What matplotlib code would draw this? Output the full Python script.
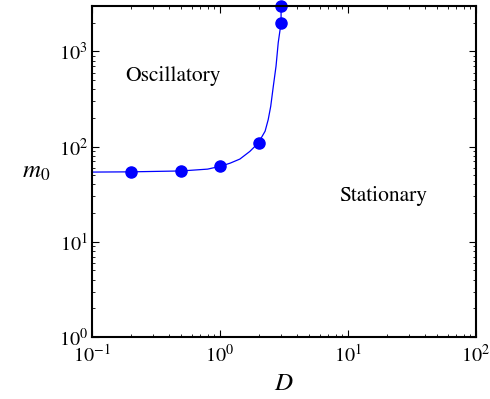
import matplotlib.pyplot as plt

plt.rcParams["font.family"] = "serif"
plt.rcParams["font.serif"] = ["STIXGeneral", "Liberation Serif"]
plt.rcParams["mathtext.fontset"] = "stix"

# marker points
D_pts = [0.2, 0.5, 1.0, 2.0, 3.0, 3.0]
m0_pts = [54, 55.5, 62, 109, 2000, 3000]

# boundary curve
D_line = [0.1, 0.2, 0.5, 0.8, 1.0, 1.2, 1.43, 1.71, 1.99, 2.25, 2.38,
          2.49, 2.61, 2.74, 2.85, 3.0, 3.0]
m0_line = [54, 54.3, 55.5, 58, 62, 67, 74, 89, 109, 145, 192,
           265, 432, 700, 1235, 2000, 3000]

region_labels = ["Oscillatory", "Stationary"]
region_pos = [(0.43, 545), (18.7, 30.5)]

fig = plt.figure(figsize=(4.9, 3.99), dpi=100)
ax = fig.add_axes([0.1878, 0.1554, 0.7836, 0.8296])

ax.plot(D_line, m0_line, color="blue", lw=0.9)
ax.plot(D_pts, m0_pts, "o", color="blue", ms=8, clip_on=False)

ax.set_xscale("log")
ax.set_yscale("log")
ax.set_xlim(0.1, 100)
ax.set_ylim(1, 3000)

for txt, (x, y) in zip(region_labels, region_pos):
    ax.text(x, y, txt, ha="center", va="center", fontsize=15.5)

ax.set_xlabel("$D$", fontsize=18, labelpad=4)
ax.set_ylabel("$m_0$", fontsize=18, rotation=0, labelpad=16, va="center")

ax.tick_params(which="both", direction="in", top=True, right=True,
               labelsize=14.5)
ax.tick_params(which="major", length=5, width=0.8)
ax.tick_params(which="minor", length=2.5, width=0.6)
ax.tick_params(axis="x", which="major", pad=5)
ax.tick_params(axis="y", which="major", pad=3)
for s in ax.spines.values():
    s.set_linewidth(1.5)

fig.savefig("out.png", dpi=100)
plt.close()
